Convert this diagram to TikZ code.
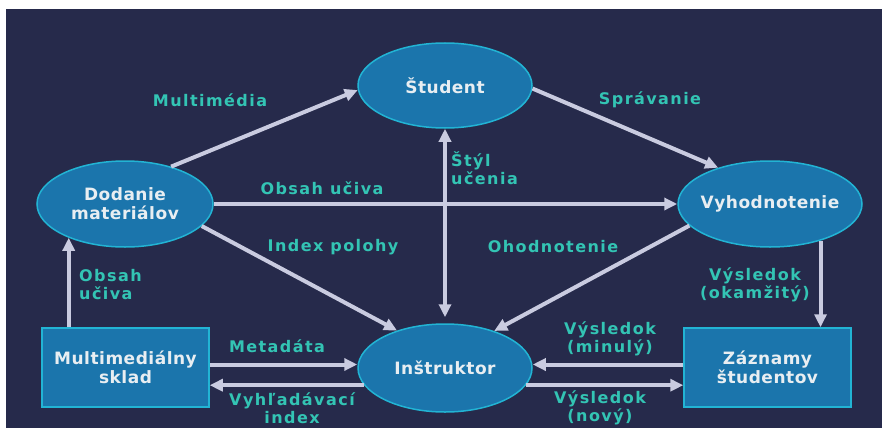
\documentclass[tikz,border=0pt]{standalone}
\usepackage{fontspec}
\setmainfont{DejaVu Sans}
\newfontfamily\lblfont[LetterSpace=9]{DejaVu Sans}
\newfontfamily\nodefont[LetterSpace=3]{DejaVu Sans}
\usetikzlibrary{shapes.geometric,arrows.meta}
\definecolor{bg}{HTML}{262A4B}
\definecolor{nodefill}{HTML}{1B75AC}
\definecolor{nodeedge}{HTML}{22B4D4}
\definecolor{lbl}{HTML}{33C4B4}
\definecolor{arrcol}{HTML}{C9CBE0}
\definecolor{txt}{HTML}{E8EEF2}
\tikzset{
  ell/.style={ellipse, draw=nodeedge, line width=1.5pt, fill=nodefill, inner sep=-12pt,
    text=txt, font=\nodefont\fontsize{17}{19}\selectfont\bfseries, align=center},
  box/.style={rectangle, draw=nodeedge, line width=1.5pt, fill=nodefill, inner sep=0pt,
    minimum width=167pt, minimum height=79pt,
    text=txt, font=\nodefont\fontsize{17}{19}\selectfont\bfseries, align=center},
  lab/.style={text=lbl, font=\lblfont\fontsize{16}{18}\selectfont\bfseries, inner sep=0pt},
  arr/.style={draw=arrcol, line width=4pt, -{Triangle[length=13pt,width=12pt]}},
  darr/.style={draw=arrcol, line width=4pt, {Triangle[length=13pt,width=12pt]}-{Triangle[length=13pt,width=12pt]}}
}
\begin{document}
\begin{tikzpicture}[x=1pt,y=-1pt]
\useasboundingbox (0,0) rectangle (882,428);
\fill[white] (0,0) rectangle (882,428);
\fill[bg] (6,9) rectangle (882,428);

\node[ell, minimum width=174pt, minimum height=85pt] (stud) at (445,85.5) {Študent};
\node[ell, minimum width=176pt, minimum height=86pt] (dod) at (125,204) {Dodanie\\materiálov};
\node[ell, minimum width=184pt, minimum height=86pt] (vyh) at (770,204) {Vyhodnotenie};
\node[ell, minimum width=174pt, minimum height=88pt] (ins) at (445,368) {Inštruktor};
\node[box] (skl) at (125.5,367.5) {Multimediálny\\sklad};
\node[box] (zaz) at (767.5,367.5) {Záznamy\\študentov};

\draw[arr] (dod.39) -- (stud.183);
\draw[arr] (stud.-2) -- (vyh.145);
\draw[arr] (dod.east) -- (vyh.west);
\draw[arr] (dod.-16) -- (ins.142);
\draw[arr] (vyh.195) -- (ins.37);
\draw[darr, shorten >=6pt] (stud.south) -- (ins.north);
\draw[arr] (vyh.-36) -- (vyh.-36 |- zaz.north);
\draw[arr] (skl.north -| dod.211) -- (dod.211);
\draw[arr] ([yshift=3pt]skl.east) -- ([yshift=3pt]skl.east -| ins.west);
\draw[arr] (ins.192) -- (ins.192 -| skl.east);
\draw[arr] ([yshift=3pt]zaz.west) -- ([yshift=3pt]zaz.west -| ins.east);
\draw[arr] (ins.-12) -- (ins.-12 -| zaz.west);

\node[lab] (l1) at (210,100) {Multimédia};
\node[lab] (l2) at (650,100) {Správanie};
\node[lab] (l3) at (322,188) {Obsah učiva};
\node[lab, align=left, anchor=west] (l4) at (451,168) {Štýl\\učenia};
\node[lab] (l5) at (333,247) {Index polohy};
\node[lab] (l6) at (553,247) {Ohodnotenie};
\node[lab, align=left, anchor=west] (l7) at (79,285) {Obsah\\učiva};
\node[lab, align=center] (l8) at (755,285) {Výsledok\\(okamžitý)};
\node[lab] (l9) at (277,346) {Metadáta};
\node[lab, align=center] (l10) at (292,408) {Vyhľadávací\\index};
\node[lab, align=center] (l11) at (610,339) {Výsledok\\(minulý)};
\node[lab, align=center] (l12) at (600,408) {Výsledok\\(nový)};
\end{tikzpicture}
\end{document}
